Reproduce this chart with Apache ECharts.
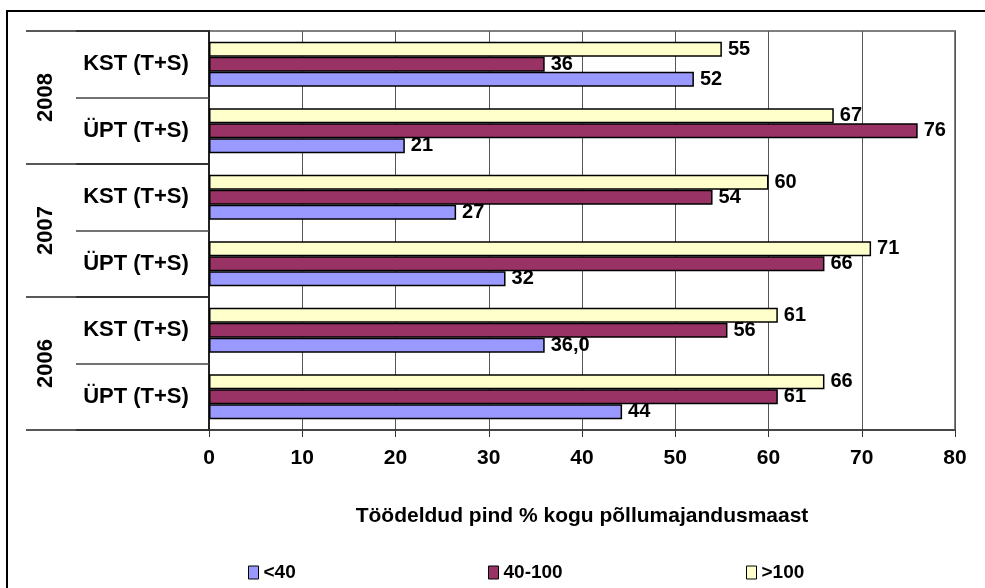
<!DOCTYPE html>
<html>
<head>
<meta charset="utf-8">
<script src="https://cdn.jsdelivr.net/npm/echarts@6/dist/echarts.min.js"></script>
<style>html,body{margin:0;padding:0;background:#fff;}#c{width:985px;height:588px;}</style>
</head>
<body>
<div id="c"></div>
<script>
// categories, bottom to top
var years = ['2006', '2007', '2008'];
var groups = ['ÜPT (T+S)', 'KST (T+S)', 'ÜPT (T+S)', 'KST (T+S)', 'ÜPT (T+S)', 'KST (T+S)'];
var seriesNames = ['<40', '40-100', '>100'];
// values, bottom to top: 2006 ÜPT, 2006 KST, 2007 ÜPT, 2007 KST, 2008 ÜPT, 2008 KST
var lowValues = [44.3, 36.0, 31.8, 26.5, 21, 52];
var midValues = [61, 55.6, 66, 54, 76, 36];
var highValues = [66, 61, 71, 60, 67, 55];
var lowLabels = ['44', '36,0', '32', '27', '21', '52'];
var midLabels = ['61', '56', '66', '54', '76', '36'];
var highLabels = ['66', '61', '71', '60', '67', '55'];
var xTicks = [0, 10, 20, 30, 40, 50, 60, 70, 80];

var catKeys = groups.map(function (g, i) { return i + '|' + g; });
var colors = ['#9999FF', '#993366', '#FFFFCC'];
var FONT = 'Liberation Sans, Arial, sans-serif';

function mkSeries(name, vals, labels, color) {
  return {
    name: name, type: 'bar', yAxisIndex: 0,
    data: vals,
    barGap: '0%', barCategoryGap: '32%',
    itemStyle: { color: color, borderColor: '#000', borderWidth: 1.5 },
    label: {
      show: true, position: 'right', distance: 6,
      fontFamily: FONT, fontWeight: 'bold', fontSize: 20, color: '#000',
      formatter: function (p) { return labels[p.dataIndex]; }
    },
    emphasis: { disabled: true },
    animation: false
  };
}

var chart = echarts.init(document.getElementById('c'), null, { renderer: 'canvas' });
chart.setOption({
  animation: false,
  graphic: [{
    type: 'rect', shape: { x: 7, y: 11, width: 1000, height: 600 },
    style: { fill: 'none', stroke: '#000', lineWidth: 2 }, z: 100
  }],
  grid: { left: 209, right: 30, top: 31, bottom: 158, show: true, borderColor: '#808080', borderWidth: 2 },
  legend: [0, 1, 2].map(function (i) {
    return {
      data: [seriesNames[i]], left: [243, 483, 741][i], top: 558,
      icon: 'rect', itemWidth: 10, itemHeight: 13, itemGap: 6,
      itemStyle: { borderColor: '#000', borderWidth: 1 },
      textStyle: { fontFamily: FONT, fontWeight: 'bold', fontSize: 19, color: '#000' }
    };
  }),
  xAxis: {
    type: 'value', min: 0, max: 80, interval: 10,
    name: 'Töödeldud pind % kogu põllumajandusmaast',
    nameLocation: 'middle', nameGap: 76,
    nameTextStyle: { fontFamily: FONT, fontWeight: 'bold', fontSize: 21, color: '#000' },
    axisLine: { show: true, onZero: false, lineStyle: { color: '#333', width: 1.5 } },
    axisTick: { show: true, length: 7, lineStyle: { color: '#333' } },
    axisLabel: {
      margin: 18, fontFamily: FONT, fontWeight: 'bold', fontSize: 21, color: '#000',
      formatter: function (v) { return xTicks.indexOf(v) >= 0 ? String(v) : ''; }
    },
    splitLine: { show: true, lineStyle: { color: '#555', width: 1 } }
  },
  yAxis: [{
    type: 'category', data: catKeys, position: 'left',
    axisLine: { show: true, lineStyle: { color: '#222', width: 2 } },
    axisTick: { show: true, length: 133, lineStyle: { color: '#444', width: 1.5 } },
    axisLabel: {
      margin: 73, align: 'center', fontFamily: FONT, fontWeight: 'bold', fontSize: 22, color: '#000',
      formatter: function (v) { return v.split('|')[1]; }
    },
    splitLine: { show: false }
  }, {
    type: 'category', data: years, position: 'left', offset: 0,
    axisLine: { show: false },
    axisTick: { show: true, length: 183, lineStyle: { color: '#222', width: 1.5 } },
    axisLabel: {
      rotate: 90, margin: 152, fontFamily: FONT, fontWeight: 'bold', fontSize: 22, color: '#000'
    },
    splitLine: { show: false }
  }],
  // series listed top-to-bottom within each category band
  series: [
    mkSeries(seriesNames[2], highValues, highLabels, colors[2]),
    mkSeries(seriesNames[1], midValues, midLabels, colors[1]),
    mkSeries(seriesNames[0], lowValues, lowLabels, colors[0])
  ]
});
</script>
</body>
</html>
